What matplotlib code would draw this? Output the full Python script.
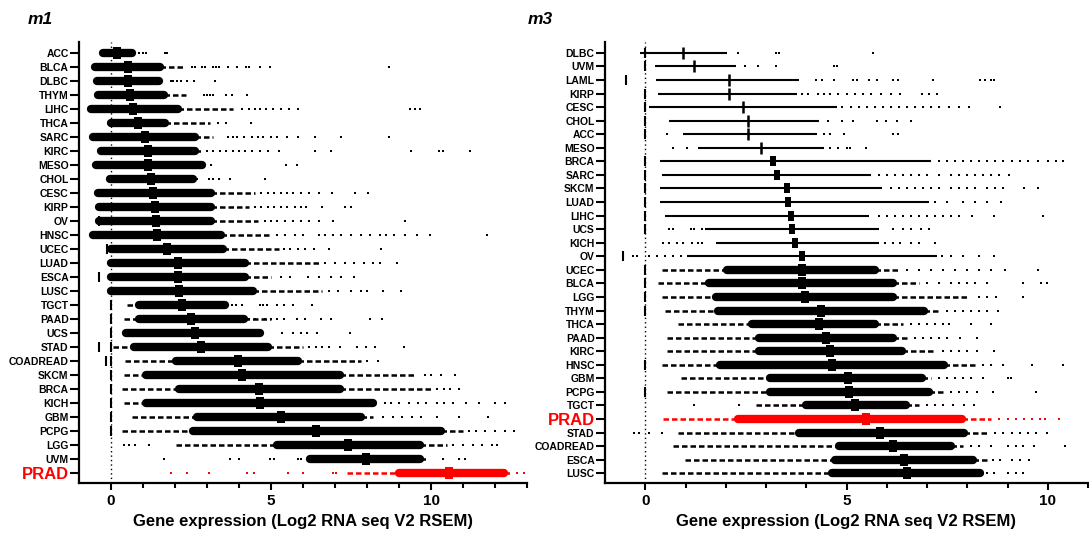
import matplotlib
matplotlib.use("Agg")
import matplotlib.pyplot as plt

plt.rcParams['font.family'] = ['Liberation Sans', 'DejaVu Sans']
plt.rcParams['font.weight'] = 'bold'

# ---------------- m1 ----------------
m1_names = ["ACC", "BLCA", "DLBC", "THYM", "LIHC", "THCA", "SARC", "KIRC", "MESO", "CHOL",
            "CESC", "KIRP", "OV", "HNSC", "UCEC", "LUAD", "ESCA", "LUSC", "TGCT", "PAAD",
            "UCS", "STAD", "COADREAD", "SKCM", "BRCA", "KICH", "GBM", "PCPG", "LGG", "UVM", "PRAD"]
m1_lead = [-0.25, -0.5, -0.45, -0.42, -0.64, 0.0, -0.55, -0.31, -0.47, -0.04,
           -0.42, -0.37, -0.39, -0.56, 0.0, 0.0, 0.0, 0.0, 0.5, 0.4,
           0.48, 0.07, 0.45, 0.4, 0.35, 0.4, 0.67, 0.35, 2.03, 6.22, 7.37]
m1_lo = [-0.25, -0.5, -0.45, -0.42, -0.64, 0.0, -0.55, -0.31, -0.47, -0.04,
         -0.42, -0.37, -0.39, -0.56, 0.0, 0.0, 0.0, 0.0, 0.89, 0.89,
         0.48, 0.72, 2.03, 1.1, 2.14, 1.1, 2.68, 2.55, 5.19, 6.22, 9.0]
m1_med = [0.18, 0.53, 0.53, 0.59, 0.70, 0.85, 1.05, 1.16, 1.16, 1.25,
          1.32, 1.36, 1.41, 1.45, 1.76, 2.09, 2.09, 2.14, 2.23, 2.49,
          2.63, 2.82, 3.97, 4.1, 4.61, 4.65, 5.3, 6.41, 7.42, 7.97, 10.55]
m1_hi = [0.67, 1.54, 1.51, 1.65, 2.09, 1.7, 2.63, 2.63, 2.85, 2.55,
         3.12, 3.12, 3.12, 3.45, 3.5, 4.2, 4.2, 4.43, 3.56, 4.16,
         4.65, 4.92, 5.84, 7.15, 7.15, 8.19, 7.8, 10.31, 9.66, 9.66, 12.27]
m1_tail = [0.67, 2.25, 1.51, 2.35, 3.8, 3.1, 3.2, 2.85, 2.85, 2.55,
           4.5, 4.3, 4.6, 5.0, 5.25, 6.5, 5.0, 6.6, 3.56, 5.0,
           4.65, 6.0, 7.8, 9.5, 10.0, 8.19, 8.19, 11.0, 10.5, 9.9, 12.5]
m1_out = [
    [0.89, 1.0, 1.1, 1.68, 1.76],
    [2.52, 2.62, 2.85, 2.95, 3.18, 3.28, 3.39, 3.67, 3.94, 4.21, 4.32, 4.65, 4.97, 8.68],
    [1.87, 1.95, 2.05, 2.2, 2.38, 2.6, 3.25],
    [2.9, 3.0, 3.1, 3.2, 3.6, 3.77, 4.26],
    [4.1, 4.3, 4.5, 4.65, 4.85, 5.05, 5.3, 5.55, 5.84, 9.33, 9.49, 9.66],
    [3.34, 3.6, 4.37],
    [3.65, 3.8, 3.95, 4.15, 4.4, 4.6, 4.75, 5.0, 5.2, 5.5, 5.84, 6.39, 7.2, 8.68],
    [3.0, 3.2, 3.4, 3.6, 3.8, 4.0, 4.2, 4.4, 4.65, 4.9, 5.25, 6.39, 6.88, 9.38, 10.25, 10.36, 11.23],
    [3.12, 5.46, 5.82],
    [2.69, 3.07, 3.2, 3.39, 3.72, 4.81],
    [4.7, 4.9, 5.1, 5.3, 5.5, 5.7, 5.95, 6.2, 6.5, 6.9, 7.64, 8.02],
    [4.5, 4.7, 4.9, 5.1, 5.3, 5.5, 5.75, 5.95, 6.1, 6.6, 7.3, 7.5],
    [4.8, 5.0, 5.2, 5.45, 5.7, 5.95, 6.2, 6.5, 6.93, 9.2],
    [5.2, 5.45, 5.75, 6.0, 6.5, 6.7, 6.95, 7.2, 7.5, 7.8, 8.1, 8.4, 8.6, 8.85, 9.2, 9.55, 9.98, 11.76],
    [5.4, 5.6, 5.85, 6.05, 6.35, 6.8, 8.44],
    [6.7, 7.0, 7.3, 7.6, 7.9, 8.2, 8.4, 8.95],
    [5.3, 5.6, 6.17, 6.5, 6.88, 7.2, 7.59],
    [6.8, 7.1, 7.5, 7.8, 8.0, 8.5, 9.06],
    [3.77, 3.9, 4.1, 4.65, 4.75, 4.86, 5.19, 5.41, 5.7, 6.28],
    [4.3, 4.5, 4.8, 5.0, 5.2, 5.41, 5.8, 6.06, 6.55, 6.88, 8.08, 8.46],
    [5.35, 5.68, 5.95, 6.12, 6.44, 7.48],
    [6.2, 6.4, 6.6, 6.82, 7.15, 7.7, 7.97, 8.24, 9.17],
    [8.0, 8.35],
    [9.8, 10.0, 10.3, 10.75],
    [10.2, 10.4, 10.6, 10.86],
    [8.57, 8.75, 9.0, 9.3, 9.6, 9.85, 10.2, 10.4, 10.7, 11.1, 11.5, 12.0, 12.3],
    [8.5, 8.8, 9.1, 9.4, 9.7, 10.2, 10.86, 11.78],
    [11.2, 11.4, 11.7, 12.0, 12.3, 12.6],
    [0.4, 0.55, 0.75, 1.2, 10.7, 11.0, 11.3, 11.6, 11.9, 12.05],
    [1.65, 3.72, 4.0, 4.97, 5.08, 5.84, 5.95, 10.36, 10.86, 11.07],
    [1.87, 2.36, 3.07, 4.26, 4.48, 5.52, 6.0, 6.93, 7.04, 12.7, 12.9],
]
# short vertical bars (values at/below zero)
m1_bar_rows = ["OV", "UCEC", "ESCA", "STAD", "COADREAD",
               "TGCT", "PAAD", "UCS", "STAD", "COADREAD", "SKCM", "BRCA", "KICH", "GBM", "PCPG"]
m1_bar_x = [-0.39, -0.12, -0.37, -0.37, -0.15,
            0, 0, 0, 0, 0, 0, 0, 0, 0, 0]

# ---------------- m3 ----------------
m3_names = ["DLBC", "UVM", "LAML", "KIRP", "CESC", "CHOL", "ACC", "MESO", "BRCA", "SARC",
            "SKCM", "LUAD", "LIHC", "UCS", "KICH", "OV", "UCEC", "BLCA", "LGG", "THYM",
            "THCA", "PAAD", "KIRC", "HNSC", "GBM", "PCPG", "TGCT", "PRAD", "STAD", "COADREAD",
            "ESCA", "LUSC"]
m3_lead = [-0.13, 0.23, 0.27, 0.32, 0.09, 0.59, 0.95, 1.31, 0.36, 0.41,
           0.36, 0.36, 0.5, 1.49, 1.76, 1.04, 0.41, 0.32, 0.41, 0.5,
           0.81, 0.55, 0.55, 0.41, 0.9, 0.55, 2.75, 0.45, 0.81, 0.68,
           0.99, 0.41]
m3_med = [0.93, 1.22, 2.07, 2.07, 2.43, 2.56, 2.56, 2.88, 3.18, 3.27,
          3.51, 3.55, 3.62, 3.64, 3.73, 3.9, 3.89, 3.89, 3.98, 4.36,
          4.32, 4.5, 4.59, 4.63, 5.04, 5.06, 5.22, 5.49, 5.84, 6.16,
          6.43, 6.5]
# thick part (equal to median where the row has no dense part)
m3_lo = [0.93, 1.22, 2.07, 2.07, 2.43, 2.56, 2.56, 2.88, 3.18, 3.27,
         3.51, 3.55, 3.62, 3.64, 3.73, 3.9, 2.03, 1.58, 1.76, 1.8,
         2.65, 2.83, 2.83, 1.85, 3.1, 3.1, 4.0, 2.3, 3.82, 4.81,
         4.72, 4.63]
m3_hi = [0.93, 1.22, 2.07, 2.07, 2.43, 2.56, 2.56, 2.88, 3.18, 3.27,
         3.51, 3.55, 3.62, 3.64, 3.73, 3.9, 5.71, 6.16, 6.16, 6.92,
         5.71, 6.16, 6.38, 7.42, 6.88, 7.06, 6.47, 7.86, 7.91, 7.6,
         8.14, 8.32]
m3_tail = [2.03, 2.25, 3.82, 3.78, 4.77, 4.32, 4.27, 4.45, 7.1, 5.62,
           5.89, 7.06, 5.57, 5.8, 5.8, 7.24, 6.3, 6.8, 8.0, 7.3,
           6.4, 6.5, 7.2, 8.2, 7.1, 7.4, 6.8, 8.6, 8.5, 7.9,
           8.5, 8.4]
m3_out = [
    [2.3, 3.24, 3.33, 5.67],
    [2.48, 2.79, 3.24, 4.68, 4.77],
    [4.23, 4.4, 4.68, 5.17, 5.26, 5.57, 5.75, 6.16, 6.29, 7.15, 8.31, 8.45, 8.58, 8.67],
    [3.9, 4.05, 4.3, 4.45, 4.6, 4.8, 5.0, 5.2, 5.4, 5.6, 5.85, 6.1, 6.34, 6.88, 7.05, 7.24],
    [4.9, 5.1, 5.3, 5.5, 5.7, 5.9, 6.1, 6.3, 6.5, 6.7, 6.9, 7.1, 7.3, 7.55, 7.8, 8.05, 8.81],
    [4.54, 4.9, 5.17, 5.75, 5.98, 6.25, 6.61],
    [0.54, 4.45, 4.6, 4.95, 6.16, 6.29],
    [0.68, 1.04, 4.6, 4.8, 5.0, 5.08, 5.48],
    [7.3, 7.5, 7.7, 7.9, 8.1, 8.3, 8.5, 8.7, 8.9, 9.1, 9.3, 9.5, 9.75, 10.0, 10.2, 10.38],
    [5.8, 6.0, 6.2, 6.4, 6.6, 6.8, 7.0, 7.3, 7.6, 7.8, 8.0, 8.2, 8.4, 8.6, 8.8, 9.03],
    [6.1, 6.3, 6.5, 6.7, 6.9, 7.1, 7.3, 7.6, 7.8, 8.0, 8.2, 8.5, 8.7, 8.9, 9.4, 9.75],
    [7.2, 7.5, 7.9, 8.2, 8.5, 8.85],
    [5.8, 6.0, 6.2, 6.4, 6.6, 6.8, 7.0, 7.2, 7.4, 7.6, 7.8, 8.13, 8.67, 9.89],
    [0.59, 0.68, 1.13, 1.22, 1.4, 6.16, 6.4, 6.6, 6.85, 7.06],
    [0.45, 0.6, 0.8, 0.95, 1.15, 1.3, 1.4, 5.95, 6.15, 6.34, 6.61, 6.79, 7.19],
    [-0.31, -0.2, 0.1, 0.3, 0.5, 0.7, 0.9, 7.37, 7.6, 7.9, 8.3, 8.67],
    [6.5, 6.8, 7.1, 7.4, 7.7, 8.0, 8.3, 8.6, 8.94, 9.75],
    [7.0, 7.3, 7.6, 7.8, 8.0, 8.2, 8.49, 9.39, 9.84, 9.98],
    [8.3, 8.5, 8.72, 9.39],
    [7.5, 7.7, 7.9, 8.1, 8.3, 8.5, 8.76],
    [6.6, 6.8, 7.0, 7.2, 7.4, 7.55, 8.09, 8.58],
    [6.7, 6.9, 7.1, 7.3, 7.5, 7.82, 8.23],
    [7.4, 7.6, 7.8, 8.0, 8.23, 8.67],
    [8.4, 8.6, 8.9, 9.62, 10.38],
    [7.3, 7.5, 7.7, 7.9, 8.1, 8.4, 9.0, 9.08],
    [7.6, 7.8, 8.0, 8.23, 8.63, 9.71],
    [1.22, 2.34, 7.0, 7.2, 7.4, 7.64, 7.91, 8.18],
    [8.8, 9.0, 9.2, 9.4, 9.6, 9.8, 9.93, 10.29],
    [-0.27, -0.15, 0.1, 0.41, 8.7, 8.9, 9.1, 9.3, 9.5, 9.71, 9.98],
    [8.1, 8.3, 8.58, 9.0, 9.2, 9.39, 9.66, 10.43],
    [8.65, 8.81, 9.12, 9.3, 9.53],
    [8.5, 8.67, 9.0, 9.2, 9.39],
]
m3_tick_median = ["DLBC", "UVM", "LAML", "KIRP", "CESC", "CHOL", "ACC", "MESO"]
m3_bar_rows = ["LAML", "OV", "DLBC", "UVM", "KIRP", "CESC", "CHOL", "ACC", "BRCA", "SARC", "SKCM",
               "LUAD", "LIHC", "UCS", "UCEC", "BLCA", "LGG", "THYM", "HNSC", "PCPG"]
m3_bar_x = [-0.49, -0.56, 0, 0, 0, 0, 0, 0, 0, 0, 0,
            0, 0, 0, 0, 0, 0, 0, 0, 0]

highlight = "PRAD"
rect = [(-0.35, -0.5), (0.35, -0.5), (0.35, 0.5), (-0.35, 0.5), (-0.35, -0.5)]


def draw_panel(ax, names, lead, lo, med, hi, tail, out, bar_rows, bar_x, tick_med=(), solid_whisker=False):
    for i, name in enumerate(names):
        c = "red" if name == highlight else "black"
        dense = hi[i] > lo[i]
        if solid_whisker and not dense:
            ax.plot([lead[i], tail[i]], [i, i], color=c, lw=1.5, solid_capstyle="butt")
        else:
            if lead[i] < lo[i]:
                ax.plot([lead[i], lo[i]], [i, i], color=c, lw=1.8, dashes=(2.2, 1.2))
            if tail[i] > hi[i]:
                ax.plot([hi[i], tail[i]], [i, i], color=c, lw=1.8, dashes=(2.2, 1.2))
        if dense:
            ax.plot([lo[i], hi[i]], [i, i], color=c, lw=6.0, solid_capstyle="round")
        ax.plot(out[i], [i] * len(out[i]), ls="none", marker="s", ms=2.1, mew=0, color=c)
        if name in tick_med:
            ax.plot([med[i]], [i], marker="|", ms=8, mew=1.8, color=c)
        else:
            ax.plot([med[i]], [i], marker=rect, ms=8.5 if dense else 6.5, mew=0, color=c)
    for r, x in zip(bar_rows, bar_x):
        ax.plot([x], [names.index(r)], marker="|", ms=6.5, mew=1.5, color="black")

    ax.axvline(0, color="black", lw=1.0, ls=(0, (1, 2.2)), zorder=0)
    ax.set_ylim(len(names) - 1 + 0.72, -0.8)
    ax.set_yticks(range(len(names)))
    ax.set_yticklabels(names)
    for lab in ax.get_yticklabels():
        if lab.get_text() == highlight:
            lab.set_color("red")
            lab.set_fontsize(12)
        else:
            lab.set_fontsize(7.5)
    ax.set_xticks([0, 5, 10])
    ax.set_xticks(range(int(ax.get_xlim()[0]) + 1, int(ax.get_xlim()[1]) + 1), minor=True)
    ax.tick_params(axis="x", which="major", length=5, width=1.5, labelsize=11, pad=3)
    ax.tick_params(axis="x", which="minor", length=3.5, width=1.5)
    ax.tick_params(axis="y", length=6.5, width=1.5, pad=1)
    for s in ("top", "right"):
        ax.spines[s].set_visible(False)
    for s in ("left", "bottom"):
        ax.spines[s].set_linewidth(1.6)
    ax.set_xlabel("Gene expression (Log2 RNA seq V2 RSEM)", fontsize=12, fontweight="bold", labelpad=4)


fig = plt.figure(figsize=(10.89, 5.35), dpi=100)
ax1 = fig.add_axes([79 / 1089, 1 - 483 / 535, 448 / 1089, 441 / 535])
ax2 = fig.add_axes([605 / 1089, 1 - 483 / 535, 483 / 1089, 441 / 535])

ax1.set_xlim(-1, 13)
ax2.set_xlim(-1, 11)
draw_panel(ax1, m1_names, m1_lead, m1_lo, m1_med, m1_hi, m1_tail, m1_out, m1_bar_rows, m1_bar_x)
draw_panel(ax2, m3_names, m3_lead, m3_lo, m3_med, m3_hi, m3_tail, m3_out, m3_bar_rows, m3_bar_x,
           tick_med=m3_tick_median, solid_whisker=True)

fig.text(28 / 1089, 1 - 19 / 535, "m1", fontsize=12.5, fontweight="bold", style="italic", va="center")
fig.text(528 / 1089, 1 - 20 / 535, "m3", fontsize=12.5, fontweight="bold", style="italic", va="center")

fig.savefig("out.png", dpi=100)
